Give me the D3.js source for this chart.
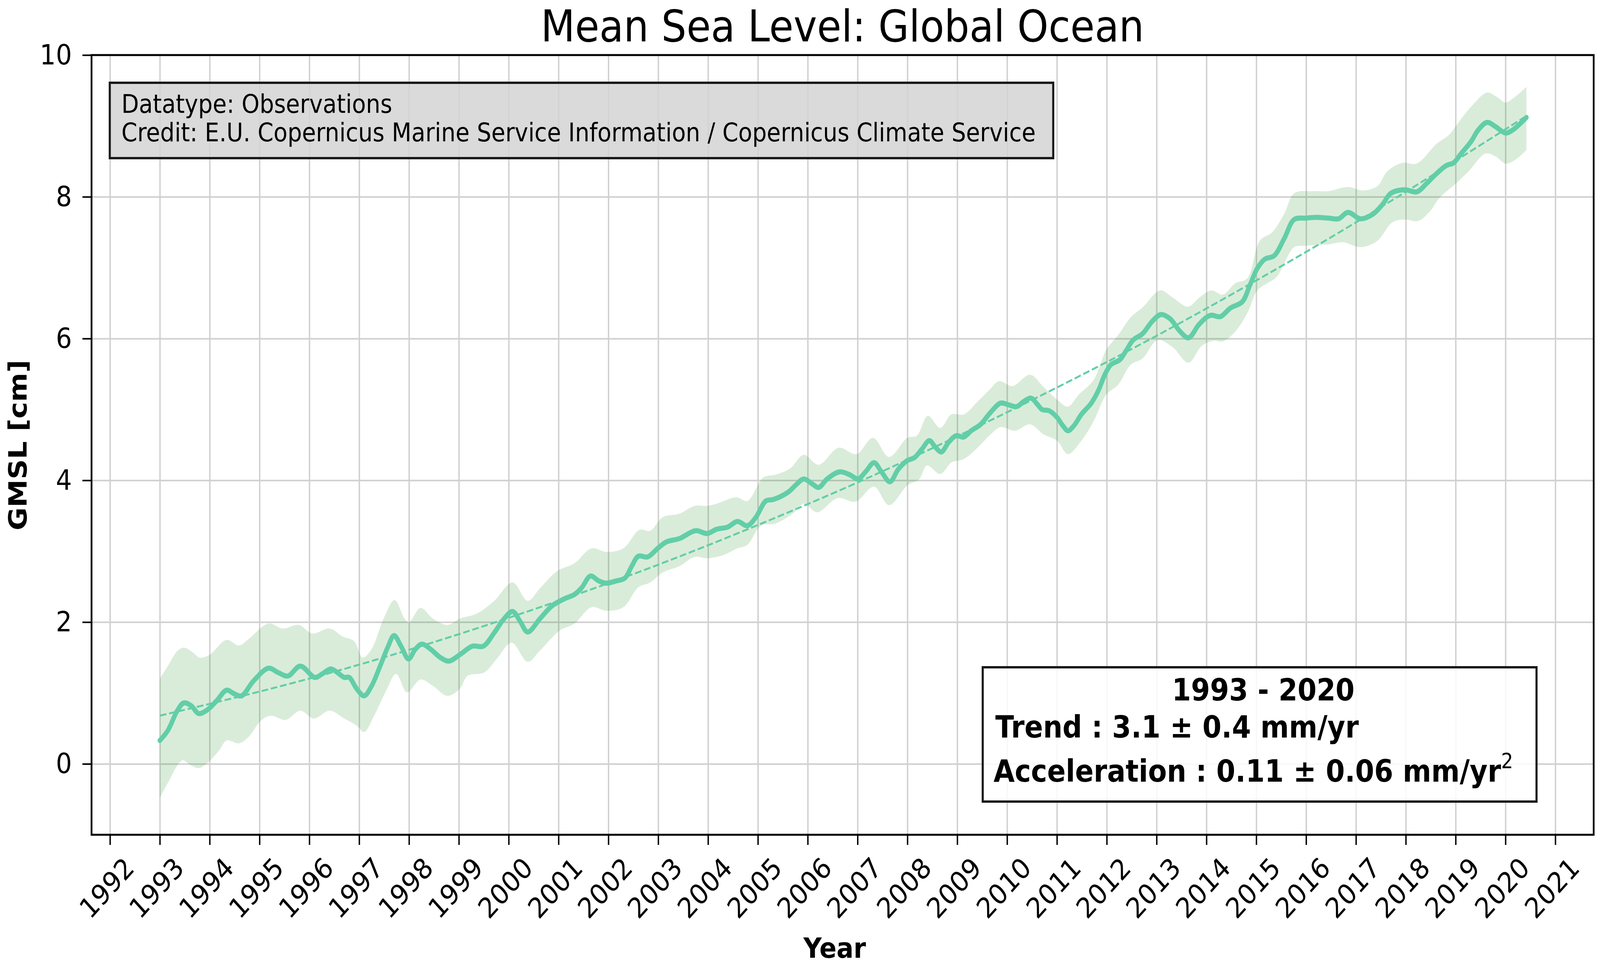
<!DOCTYPE html>
<html>
<head>
<meta charset="utf-8">
<script src="https://cdn.jsdelivr.net/npm/d3@7"></script>
<style>
	html, body { margin: 0; padding: 0; height: 100%; overflow: hidden; background: #fff; }
	#chart-area svg { display: block; width: 100vw; height: 100vh; }
	text { font-family: "DejaVu Sans", sans-serif; }
</style>
</head>
<body>
<div id="chart-area"></div>
<script>

// tick labels
let yearTicks = [1992, 1993, 1994, 1995, 1996, 1997, 1998, 1999, 2000, 2001, 2002, 2003, 2004, 2005, 2006,
	2007, 2008, 2009, 2010, 2011, 2012, 2013, 2014, 2015, 2016, 2017, 2018, 2019, 2020, 2021];
let gmslTicks = [0, 2, 4, 6, 8, 10];

// GMSL curve (cm)
let gmslYears = [1993.00, 1993.16, 1993.35, 1993.48, 1993.63, 1993.78, 1993.95, 1994.14, 1994.34, 1994.49,
	1994.64, 1994.88, 1995.18, 1995.37, 1995.57, 1995.82, 1996.11, 1996.26, 1996.43, 1996.56,
	1996.70, 1996.80, 1996.95, 1997.10, 1997.25, 1997.42, 1997.57, 1997.70, 1997.84, 1997.99,
	1998.13, 1998.26, 1998.43, 1998.63, 1998.80, 1999.02, 1999.27, 1999.49, 1999.71, 1999.91,
	2000.08, 2000.23, 2000.38, 2000.63, 2000.87, 2001.12, 2001.32, 2001.46, 2001.64, 2001.81,
	2001.96, 2002.15, 2002.33, 2002.47, 2002.60, 2002.79, 2002.99, 2003.16, 2003.43, 2003.75,
	2003.98, 2004.17, 2004.39, 2004.59, 2004.79, 2004.96, 2005.16, 2005.31, 2005.60, 2005.77,
	2005.92, 2006.09, 2006.22, 2006.39, 2006.64, 2006.84, 2007.01, 2007.16, 2007.33, 2007.48,
	2007.65, 2007.82, 2008.00, 2008.14, 2008.29, 2008.44, 2008.56, 2008.68, 2008.83, 2008.98,
	2009.13, 2009.28, 2009.47, 2009.67, 2009.87, 2010.01, 2010.19, 2010.33, 2010.48, 2010.61,
	2010.70, 2010.85, 2011.00, 2011.12, 2011.22, 2011.34, 2011.49, 2011.69, 2011.84, 2011.96,
	2012.08, 2012.26, 2012.38, 2012.53, 2012.72, 2012.92, 2013.09, 2013.27, 2013.46, 2013.64,
	2013.84, 2014.00, 2014.10, 2014.28, 2014.48, 2014.72, 2014.87, 2015.02, 2015.17, 2015.36,
	2015.56, 2015.76, 2016.00, 2016.20, 2016.45, 2016.65, 2016.84, 2017.09, 2017.33, 2017.53,
	2017.70, 2017.98, 2018.22, 2018.42, 2018.62, 2018.81, 2018.96, 2019.11, 2019.31, 2019.45,
	2019.63, 2019.80, 2020.00, 2020.14, 2020.42];
let gmslValues = [0.33, 0.47, 0.75, 0.86, 0.82, 0.71, 0.76, 0.89, 1.04, 0.99,
	0.96, 1.17, 1.35, 1.29, 1.24, 1.38, 1.22, 1.27, 1.34, 1.29,
	1.22, 1.22, 1.06, 0.96, 1.10, 1.38, 1.64, 1.81, 1.66, 1.48,
	1.62, 1.69, 1.62, 1.50, 1.45, 1.54, 1.66, 1.66, 1.85, 2.05,
	2.15, 2.01, 1.86, 2.05, 2.23, 2.33, 2.39, 2.48, 2.65, 2.58,
	2.55, 2.58, 2.62, 2.79, 2.93, 2.92, 3.04, 3.13, 3.18, 3.29,
	3.25, 3.31, 3.34, 3.42, 3.36, 3.48, 3.71, 3.73, 3.83, 3.94,
	4.02, 3.95, 3.90, 4.02, 4.12, 4.08, 4.02, 4.12, 4.25, 4.12,
	3.98, 4.16, 4.28, 4.32, 4.44, 4.56, 4.47, 4.40, 4.54, 4.63,
	4.61, 4.70, 4.79, 4.96, 5.09, 5.07, 5.04, 5.11, 5.16, 5.07,
	5.00, 4.98, 4.89, 4.77, 4.70, 4.77, 4.93, 5.09, 5.28, 5.49,
	5.63, 5.70, 5.82, 5.98, 6.07, 6.25, 6.34, 6.28, 6.11, 6.01,
	6.19, 6.30, 6.33, 6.31, 6.43, 6.52, 6.75, 6.99, 7.12, 7.17,
	7.41, 7.68, 7.70, 7.71, 7.70, 7.69, 7.78, 7.69, 7.75, 7.89,
	8.05, 8.10, 8.07, 8.19, 8.33, 8.44, 8.48, 8.61, 8.78, 8.94,
	9.05, 8.99, 8.90, 8.94, 9.12];

// uncertainty envelope, upper edge
let upperYears = [1993.00, 1993.16, 1993.35, 1993.48, 1993.63, 1993.80, 1994.00, 1994.34, 1994.59, 1994.78,
	1995.18, 1995.47, 1995.79, 1996.06, 1996.41, 1996.66, 1996.90, 1997.07, 1997.25, 1997.49,
	1997.71, 1997.91, 1998.00, 1998.23, 1998.48, 1998.77, 1999.02, 1999.36, 1999.71, 2000.08,
	2000.38, 2000.63, 2000.97, 2001.32, 2001.66, 2001.96, 2002.30, 2002.62, 2002.84, 2003.09,
	2003.43, 2003.73, 2003.98, 2004.17, 2004.57, 2004.79, 2005.11, 2005.35, 2005.65, 2005.92,
	2006.22, 2006.62, 2006.98, 2007.31, 2007.63, 2008.00, 2008.19, 2008.41, 2008.66, 2008.88,
	2009.13, 2009.42, 2009.65, 2009.84, 2010.11, 2010.46, 2010.73, 2011.00, 2011.22, 2011.44,
	2011.74, 2011.99, 2012.23, 2012.48, 2012.72, 2013.07, 2013.32, 2013.63, 2013.86, 2014.10,
	2014.33, 2014.58, 2014.82, 2015.07, 2015.32, 2015.56, 2015.76, 2016.15, 2016.45, 2016.84,
	2017.14, 2017.43, 2017.63, 2017.93, 2018.22, 2018.62, 2018.86, 2019.11, 2019.36, 2019.63,
	2019.85, 2020.00, 2020.19, 2020.42];
let upperValues = [1.20, 1.38, 1.59, 1.64, 1.59, 1.50, 1.54, 1.75, 1.67, 1.76,
	1.98, 1.91, 1.96, 1.84, 1.91, 1.80, 1.73, 1.50, 1.62, 2.05,
	2.31, 2.05, 2.00, 2.20, 2.05, 1.96, 2.05, 2.12, 2.30, 2.56,
	2.30, 2.48, 2.72, 2.83, 3.04, 2.99, 3.04, 3.30, 3.29, 3.48,
	3.53, 3.64, 3.64, 3.67, 3.76, 3.71, 4.04, 4.08, 4.17, 4.36,
	4.22, 4.46, 4.37, 4.60, 4.33, 4.60, 4.63, 4.91, 4.74, 4.93,
	4.93, 5.12, 5.28, 5.40, 5.33, 5.49, 5.32, 5.14, 5.04, 5.21,
	5.42, 5.84, 6.05, 6.30, 6.44, 6.68, 6.58, 6.45, 6.58, 6.68,
	6.62, 6.78, 6.85, 7.38, 7.50, 7.76, 8.05, 8.08, 8.08, 8.14,
	8.09, 8.15, 8.36, 8.48, 8.47, 8.75, 8.87, 9.10, 9.31, 9.47,
	9.40, 9.33, 9.41, 9.55];

// uncertainty envelope, lower edge
let lowerYears = [1993.00, 1993.16, 1993.45, 1993.60, 1993.77, 1993.95, 1994.19, 1994.34, 1994.59, 1994.78,
	1995.03, 1995.23, 1995.52, 1995.82, 1996.09, 1996.41, 1996.70, 1996.95, 1997.10, 1997.30,
	1997.54, 1997.74, 1997.96, 1998.23, 1998.48, 1998.77, 1999.02, 1999.17, 1999.51, 1999.76,
	2000.06, 2000.38, 2000.63, 2001.02, 2001.32, 2001.66, 2001.96, 2002.30, 2002.60, 2002.84,
	2003.09, 2003.43, 2003.73, 2003.98, 2004.32, 2004.59, 2004.79, 2005.06, 2005.35, 2005.70,
	2005.92, 2006.19, 2006.60, 2006.96, 2007.33, 2007.63, 2008.00, 2008.24, 2008.39, 2008.66,
	2008.88, 2009.13, 2009.42, 2009.67, 2009.87, 2010.16, 2010.46, 2010.73, 2011.00, 2011.22,
	2011.47, 2011.74, 2011.99, 2012.23, 2012.48, 2012.72, 2013.02, 2013.32, 2013.64, 2013.91,
	2014.15, 2014.33, 2014.58, 2014.82, 2015.02, 2015.22, 2015.41, 2015.56, 2015.76, 2016.00,
	2016.45, 2016.74, 2017.09, 2017.43, 2017.73, 2017.98, 2018.25, 2018.49, 2018.67, 2019.01,
	2019.26, 2019.60, 2019.80, 2020.00, 2020.19, 2020.42];
let lowerValues = [-0.48, -0.27, 0.05, -0.01, -0.06, 0.01, 0.19, 0.33, 0.29, 0.38,
	0.61, 0.68, 0.62, 0.75, 0.64, 0.75, 0.64, 0.54, 0.45, 0.68,
	1.03, 1.27, 1.01, 1.19, 1.10, 0.96, 1.06, 1.24, 1.29, 1.48,
	1.71, 1.44, 1.60, 1.88, 1.98, 2.21, 2.16, 2.21, 2.49, 2.56,
	2.70, 2.79, 2.92, 2.90, 2.95, 3.04, 3.09, 3.36, 3.39, 3.53,
	3.67, 3.55, 3.75, 3.70, 3.91, 3.65, 3.93, 4.02, 4.21, 4.09,
	4.25, 4.30, 4.47, 4.65, 4.75, 4.70, 4.79, 4.65, 4.56, 4.37,
	4.54, 4.84, 5.21, 5.35, 5.63, 5.72, 5.98, 5.88, 5.66, 5.90,
	5.97, 5.96, 6.10, 6.36, 6.68, 6.78, 6.87, 7.06, 7.29, 7.31,
	7.33, 7.36, 7.29, 7.38, 7.64, 7.68, 7.66, 7.80, 7.98, 8.19,
	8.36, 8.61, 8.57, 8.47, 8.52, 8.66];

// dashed trend curve
let trendYears = [1993, 1995, 1997, 1999, 2001, 2003, 2005, 2007, 2009, 2011, 2013, 2015, 2017, 2019, 2020.42];
let trendValues = [0.68, 1.02, 1.40, 1.83, 2.30, 2.81, 3.37, 3.97, 4.62, 5.31, 6.04, 6.82, 7.64, 8.51, 9.14];

let infoLines = ["Datatype: Observations",
	"Credit: E.U. Copernicus Marine Service Information / Copernicus Climate Service"];

drawChart();

function drawChart(){

	let margin = {top: 141, right: 18, bottom: 331, left: 261};

	let width = 4562 - margin.left - margin.right,
		height = 2469 - margin.top - margin.bottom;

	// whole figure stretched over the window
	let root = d3.select("#chart-area").append("svg")
		.attr("viewBox", `0 0 ${width + margin.left + margin.right} ${height + margin.top + margin.bottom}`)
		.attr("preserveAspectRatio", "none");

	let svg = root.append("g")
		.attr("transform", "translate(" + margin.left + "," + margin.top + ")");

	// scales
	let x = d3.scaleLinear()
		.domain([1991.63, 2021.77])
		.range([0, width]);

	let y = d3.scaleLinear()
		.domain([-1, 10])
		.range([height, 0]);

	// grid
	svg.append("g")
		.attr("class", "x-grid")
		.call(d3.axisBottom(x).tickValues(yearTicks).tickSize(height).tickFormat(""));
	svg.append("g")
		.attr("class", "y-grid")
		.call(d3.axisLeft(y).tickValues(gmslTicks).tickSize(-width).tickFormat(""));
	svg.selectAll(".x-grid line, .y-grid line")
		.attr("stroke", "#d0d0d0")
		.attr("stroke-width", 4);
	svg.selectAll(".x-grid .domain, .y-grid .domain").remove();

	// envelope
	let line = d3.line()
		.x(d => x(d[0]))
		.y(d => y(d[1]))
		.curve(d3.curveCatmullRom);

	let upper = upperYears.map((t, i) => [t, upperValues[i]]);
	let lower = lowerYears.map((t, i) => [t, lowerValues[i]]).reverse();
	let bandPath = line(upper) + "L" + line(lower).slice(1) + "Z";

	svg.append("path")
		.attr("d", bandPath)
		.attr("fill", "green")
		.attr("fill-opacity", 0.15);

	// trend
	svg.append("path")
		.datum(trendYears.map((t, i) => [t, trendValues[i]]))
		.attr("d", line.curve(d3.curveNatural))
		.attr("fill", "none")
		.attr("stroke", "#62cea8")
		.attr("stroke-width", 5)
		.attr("stroke-dasharray", "19,8");

	// GMSL
	line.curve(d3.curveCatmullRom);
	svg.append("path")
		.datum(gmslYears.map((t, i) => [t, gmslValues[i]]))
		.attr("d", line)
		.attr("fill", "none")
		.attr("stroke", "#62cea8")
		.attr("stroke-width", 13)
		.attr("stroke-linejoin", "round")
		.attr("stroke-linecap", "round");

	// axes
	let xAxis = d3.axisBottom(x).tickValues(yearTicks).tickSize(26).tickFormat(d3.format("d"));
	let yAxis = d3.axisLeft(y).tickValues(gmslTicks).tickSize(26).tickPadding(30);

	let xAxisGroup = svg.append("g")
		.attr("class", "x-axis")
		.attr("transform", `translate(0, ${height})`)
		.call(xAxis);

	xAxisGroup.selectAll("text")
		.attr("y", null)
		.attr("dy", null)
		.attr("text-anchor", "middle")
		.attr("dominant-baseline", "central")
		.attr("transform", "translate(-10, 136) rotate(-45)");

	svg.append("g")
		.attr("class", "y-axis")
		.call(yAxis);

	svg.selectAll(".x-axis .domain, .y-axis .domain").remove();
	svg.selectAll(".x-axis line, .y-axis line")
		.attr("stroke", "#000")
		.attr("stroke-width", 4);
	svg.selectAll(".x-axis text, .y-axis text")
		.attr("font-family", "DejaVu Sans")
		.attr("font-size", 72)
		.attr("fill", "#000");

	// frame
	svg.append("rect")
		.attr("width", width)
		.attr("height", height)
		.attr("fill", "none")
		.attr("stroke", "#000")
		.attr("stroke-width", 5);

	// info box
	svg.append("rect")
		.attr("x", 52)
		.attr("y", 71)
		.attr("width", 2690)
		.attr("height", 193)
		.attr("fill", "#d3d3d3")
		.attr("fill-opacity", 0.85)
		.attr("stroke", "#1a1a1a")
		.attr("stroke-width", 6);

	svg.selectAll(".info-line").data(infoLines)
		.enter().append("text")
		.attr("class", "info-line")
		.attr("x", 85)
		.attr("y", (d, i) => 148 + i * 73)
		.attr("font-size", 65)
		.text(d => d);

	// stats box
	let stats = svg.append("g")
		.attr("transform", "translate(2541, 1568)");

	stats.append("rect")
		.attr("width", 1579)
		.attr("height", 344)
		.attr("fill", "#fff")
		.attr("fill-opacity", 0.85)
		.attr("stroke", "#1a1a1a")
		.attr("stroke-width", 6);

	stats.append("text")
		.attr("x", 800)
		.attr("y", 85)
		.attr("text-anchor", "middle")
		.attr("font-size", 78)
		.attr("font-weight", "bold")
		.text("1993 - 2020");

	stats.append("text")
		.attr("x", 36)
		.attr("y", 180)
		.attr("font-size", 78)
		.attr("font-weight", "bold")
		.text("Trend : 3.1 \u00b1 0.4 mm/yr");

	let acc = stats.append("text")
		.attr("x", 31)
		.attr("y", 293)
		.attr("font-size", 78)
		.attr("font-weight", "bold");
	acc.append("tspan").text("Acceleration : 0.11 \u00b1 0.06 mm/yr");
	acc.append("tspan")
		.attr("dy", -35)
		.attr("font-size", 54)
		.attr("font-weight", "normal")
		.text("2");

	// title and labels
	root.append("text")
		.attr("x", 2402)
		.attr("y", 106)
		.attr("text-anchor", "middle")
		.attr("font-size", 113)
		.text("Mean Sea Level: Global Ocean");

	root.append("text")
		.attr("x", 2380)
		.attr("y", 2453)
		.attr("text-anchor", "middle")
		.attr("font-size", 72)
		.attr("font-weight", "bold")
		.text("Year");

	root.append("text")
		.attr("transform", "translate(76, 1140) rotate(-90)")
		.attr("text-anchor", "middle")
		.attr("font-size", 72)
		.attr("font-weight", "bold")
		.text("GMSL [cm]");
}

</script>
</body>
</html>
